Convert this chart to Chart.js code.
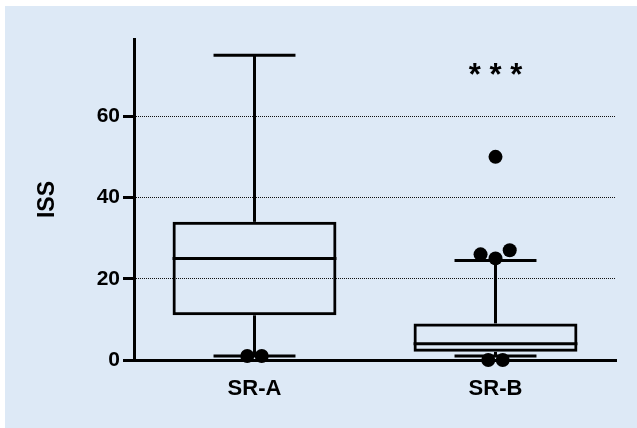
<!DOCTYPE html>
<html>
<head>
<meta charset="utf-8">
<script src="https://cdn.jsdelivr.net/npm/chart.js@4"></script>
<style>
  html, body { margin: 0; padding: 0; background: #fff; }
  #wrap { position: absolute; left: 5px; top: 6px; width: 632px; height: 422px; background: #dde9f6; }
</style>
</head>
<body>
<div id="wrap"><canvas id="chart" width="632" height="422"></canvas></div>
<script>
// box plot values (ISS)
const groups = ['SR-A', 'SR-B'];
const whiskerLow = [1, 1];
const q1 = [11, 2];
const median = [25, 4];
const q3 = [34, 9];
const whiskerHigh = [75, 24.5];
// single points outside the whiskers
const outlierGroup = [0, 0, 1, 1, 1, 1, 1, 1];
const outlierValue = [1, 1, 0, 0, 25, 26, 27, 50];
const yTicks = [0, 20, 40, 60];
const yMax = 79;
const signifText = '* * *';
const signifValue = 71;

// side-by-side nudge so overlapping dots don't hide each other (category units)
const dotNudge = [-0.03, 0.03, -0.03, 0.03, 0, -0.062, 0.059, 0];

const FONT = '"Liberation Sans", Arial, Helvetica, sans-serif';

const boxPlot = {
    id: 'boxPlot',
    afterDatasetDraw(chart, args) {
        if (args.index !== 1) return;
        const { ctx } = chart;
        const y = chart.scales.y;
        const line = (x1, y1, x2, y2) => { ctx.beginPath(); ctx.moveTo(x1, y1); ctx.lineTo(x2, y2); ctx.stroke(); };
        ctx.save();
        ctx.strokeStyle = '#000';
        ctx.lineWidth = 3;
        args.meta.data.forEach((bar, i) => {
            const x = bar.x, half = bar.width / 2, cap = bar.width / 4;
            const yMed = y.getPixelForValue(median[i]);
            const yHi = y.getPixelForValue(whiskerHigh[i]);
            const yLo = y.getPixelForValue(whiskerLow[i]);
            line(x - half, yMed, x + half, yMed);
            line(x, y.getPixelForValue(q3[i]), x, yHi);
            line(x, y.getPixelForValue(q1[i]), x, yLo);
            line(x - cap, yHi, x + cap, yHi);
            line(x - cap, yLo, x + cap, yLo);
        });
        ctx.restore();
    },
    afterDraw(chart) {
        const { ctx } = chart;
        ctx.save();
        ctx.fillStyle = '#000';
        ctx.font = 'bold 31px ' + FONT;
        ctx.textAlign = 'center';
        ctx.textBaseline = 'middle';
        ctx.fillText(signifText, chart.scales.x.getPixelForValue(1), chart.scales.y.getPixelForValue(signifValue) + 5);
        ctx.restore();
    }
};

new Chart(document.getElementById('chart'), {
    type: 'bar',
    data: {
        labels: groups,
        datasets: [
            {
                type: 'scatter',
                xAxisID: 'x2',
                yAxisID: 'y',
                data: outlierValue.map((v, i) => ({ x: outlierGroup[i] + dotNudge[i], y: v })),
                pointRadius: 7,
                pointHoverRadius: 7,
                backgroundColor: '#000',
                borderWidth: 0,
                clip: false,
                order: 0
            },
            {
                type: 'bar',
                xAxisID: 'x',
                yAxisID: 'y',
                data: groups.map((g, i) => [q1[i], q3[i]]),
                backgroundColor: 'rgba(0,0,0,0)',
                borderColor: '#000',
                borderWidth: 3,
                borderSkipped: false,
                grouped: false,
                barPercentage: 0.68,
                categoryPercentage: 1,
                order: 1
            }
        ]
    },
    options: {
        responsive: false,
        animation: false,
        layout: { padding: { top: 33, right: 21, left: 0, bottom: 0 } },
        plugins: { legend: { display: false }, tooltip: { enabled: false } },
        scales: {
            x: {
                type: 'category',
                grid: { display: false, drawTicks: false },
                border: { color: '#000', width: 3 },
                ticks: { color: '#000', padding: 16, font: { family: FONT, size: 22, weight: 'bold' } },
                afterFit(s) { s.height = 68; }
            },
            x2: { type: 'linear', display: false, offset: false, grid: { offset: false }, min: -0.5, max: 1.5 },
            y: {
                min: 0,
                max: yMax,
                afterBuildTicks(s) { s.ticks = yTicks.map(v => ({ value: v })); },
                grid: {
                    color: c => (c.tick && c.tick.value === 0) ? 'rgba(0,0,0,0)' : '#111',
                    lineWidth: 1,
                    tickLength: 11,
                    tickWidth: 3,
                    tickColor: '#000',
                    tickBorderDash: []
                },
                border: { color: '#000', width: 3, dash: [1, 1] },
                ticks: { color: '#000', padding: 3, font: { family: FONT, size: 21, weight: 'bold' } },
                title: { display: true, text: 'ISS', color: '#000', padding: { top: 29 }, font: { family: FONT, size: 23, weight: 'bold' } },
                afterFit(s) { s.width = 129; }
            }
        }
    },
    plugins: [boxPlot]
});
</script>
</body>
</html>
